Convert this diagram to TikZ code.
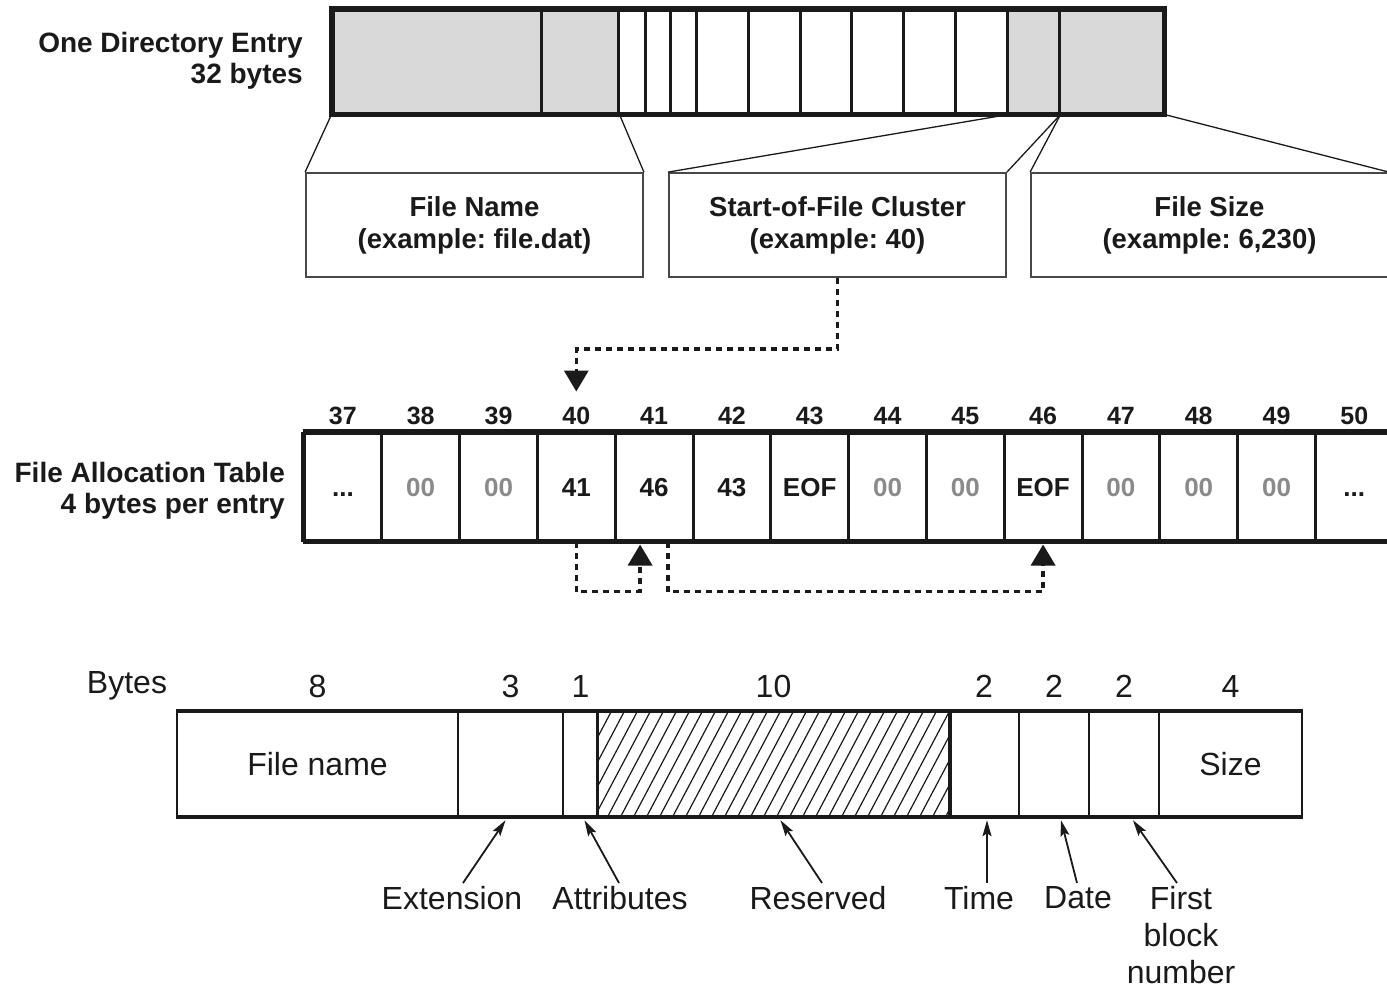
\documentclass[tikz,border=0pt]{standalone}
\usepackage{fontspec}
\setmainfont{Liberation Sans}
\usetikzlibrary{arrows.meta,calc}
\definecolor{barg}{HTML}{D9D9D9}
\definecolor{ink}{HTML}{1A1A1A}
\definecolor{zero}{HTML}{8A8A8A}
\newcommand\tdots{...}
\frenchspacing
\begin{document}
\begin{tikzpicture}[x=1pt,y=-1pt,
  field/.style={draw=ink,line width=3pt,inner sep=0pt,minimum height=103pt},
  infobox/.style={draw=ink!80,line width=1.8pt,inner sep=0pt,minimum height=104pt,minimum width=337pt,align=center,font=\bfseries\fontsize{27.5}{32}\selectfont,text=ink},
  link/.style={draw=ink,line width=1.3pt},
  cell/.style={draw=ink,line width=3pt,inner sep=0pt,minimum height=107pt,minimum width=77.8pt,text height=19pt,text depth=0pt,font=\bfseries\fontsize{26}{28}\selectfont},
  numlab/.style={font=\bfseries\fontsize{25}{28}\selectfont,text=ink,inner sep=0pt,anchor=base},
  sidelab/.style={align=right,anchor=east,font=\bfseries\fontsize{28}{31.5}\selectfont,text=ink,inner sep=0pt},
  dotarrow/.style={draw=ink,line width=3.5pt,dash pattern=on 6pt off 5pt,-{Triangle[width=24pt,length=21pt]}},
  entry/.style={draw=ink,line width=2.5pt,inner sep=0pt,minimum height=104pt,font=\fontsize{32}{37}\selectfont,text=ink},
  bytelab/.style={font=\fontsize{32}{37}\selectfont,text=ink,inner sep=0pt},
  desc/.style={font=\fontsize{32}{37}\selectfont,text=ink,align=center,inner sep=0pt,anchor=north},
  ptr/.style={draw=ink,line width=1.8pt,-{Stealth[length=16pt,width=9pt,inset=3pt]}}
]
\useasboundingbox (0,0) rectangle (1387,991);
\fill[white] (0,0) rectangle (1387,991);

% ---------- top bar ----------
\foreach \a/\b/\n/\c in {333/541/1/barg,541/618/2/barg,618/645/3/white,645/670/4/white,670/696/5/white,696/748/6/white,748/800/7/white,800/851/8/white,851/903/9/white,903/955/10/white,955/1007/11/white,1007/1059/12/barg,1059/1163/13/barg}
  \node[field,fill=\c,minimum width={(\b-\a)*1pt}] (t\n) at ({(\a+\b)/2},61.5) {};
\draw[ink,line width=4.5pt] (t1.north west) rectangle (t13.south east);

\node[sidelab] (dirlab) at (303,61) {One Directory Entry\\32 bytes};

% ---------- info boxes ----------
\node[infobox] (fn) at (474.5,225) {File Name\\(example: file.dat)};
\node[infobox] (sc) at (837.5,225) {Start-of-File Cluster\\(example: 40)};
\node[infobox,minimum width=357pt] (fs) at (1209.5,225) {File Size\\(example: 6,230)};

\draw[link] (t1.south west) -- (fn.north west);
\draw[link] (t2.south east) -- (fn.north east);
\draw[link] (t11.south east) -- (sc.north west);
\draw[link] (t12.south east) -- (sc.north east);
\draw[link] (t12.south east) -- (fs.north west);
\draw[link] (t13.south east) -- (fs.north east);

% ---------- FAT ----------
\foreach \i/\v/\col [count=\k from 0] in {37/\tdots/ink,38/00/zero,39/00/zero,40/41/ink,41/46/ink,42/43/ink,43/EOF/ink,44/00/zero,45/00/zero,46/EOF/ink,47/00/zero,48/00/zero,49/00/zero,50/\tdots/ink}{
  \node[cell,text=\col] (c\i) at ({304+77.8*(\k+0.5)},486.5) {\v};
  \node[numlab] (n\i) at ([yshift=7pt]c\i.north) {\i};
}
\draw[ink,line width=4.5pt] (c37.north west) -- (c50.north east);
\draw[ink,line width=4.5pt] (c37.south west) -- (c50.south east);
\draw[ink,line width=3pt] (c37.north west) -- (c37.south west);

\node[sidelab] (fatlab) at (285,491) {File Allocation Table\\4 bytes per entry};

\coordinate (a40) at ([yshift=40pt]c40.north);
\draw[dotarrow] (sc.south) -- ++(0,71) -| (a40);
\draw[dotarrow] (c40.south) -- ++(0,50) -| ([xshift=-14pt,yshift=-3pt]c41.south);
\draw[dotarrow] ([xshift=14pt]c41.south) -- ++(0,50) -| ([yshift=-3pt]c46.south);

% ---------- bottom entry ----------
\foreach \a/\b/\n/\t in {177/458/1/File name,458/563/2/,563/598/3/,598/949/4/,949/1019/5/,1019/1089/6/,1089/1159/7/,1159/1302/8/Size}
  \node[entry,minimum width={(\b-\a)*1pt}] (b\n) at ({(\a+\b)/2},764) {\t};
\begin{scope}
  \clip (b4.south west) rectangle (b4.north east);
  \foreach \x in {530,543,...,960}
    \draw[ink,line width=1.2pt] (\x,816) -- ++(55,-104);
\end{scope}
\draw[ink,line width=2.5pt] (b4.north west) rectangle (b4.south east);
\draw[ink,line width=3pt] (b1.north west) -- (b8.north east);
\draw[ink,line width=3pt] (b1.south west) -- (b8.south east);

\node[bytelab] (bytes) at (127,686) {Bytes};
\foreach \n/\v in {1/8,2/3,3/1,4/10,5/2,6/2,7/2,8/4}
  \node[bytelab] (s\n) at (b\n.center |- bytes) {\v};

\node[desc] (lext) at (452,886) {Extension};
\node[desc] (latt) at (620,886) {Attributes};
\node[desc] (lres) at (818,886) {Reserved};
\node[desc] (ltim) at (979,886) {Time};
\node[desc] (ldat) at (1078,886) {Date};
\node[desc] (lfir) at (1181,886) {First\\block\\number};

\draw[ptr] ([xshift=11pt,yshift=3pt]lext.north) -- ([xshift=-5pt,yshift=-3pt]b2.south);
\draw[ptr] ([xshift=-1pt,yshift=3pt]latt.north) -- ([xshift=4pt,yshift=-3pt]b3.south);
\draw[ptr] ([xshift=4pt,yshift=3pt]lres.north) -- ([xshift=7pt,yshift=-3pt]b4.south);
\draw[ptr] ([xshift=8pt,yshift=3pt]ltim.north) -- ([xshift=3pt,yshift=-3pt]b5.south);
\draw[ptr] ([xshift=-1pt,yshift=3pt]ldat.north) -- ([xshift=7pt,yshift=-3pt]b6.south);
\draw[ptr] ([xshift=-4pt,yshift=3pt]lfir.north) -- ([xshift=9pt,yshift=-3pt]b7.south);
\end{tikzpicture}
\end{document}
